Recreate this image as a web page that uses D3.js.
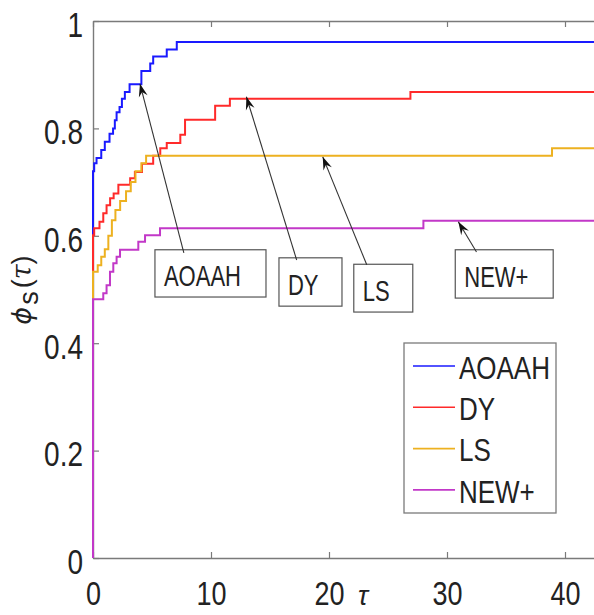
<!DOCTYPE html>
<html>
<head>
<meta charset="utf-8">
<script src="https://cdn.jsdelivr.net/npm/d3@7"></script>
<style>
  body { margin: 0; background: #fff; }
  svg { display: block; }
  text { font-family: "Liberation Sans", Arial, sans-serif; fill: #222; }
</style>
</head>
<body>
<div class="canvas"></div>
<script>
// performance profile data (step curves)
const seriesNames = ['AOAAH', 'DY', 'LS', 'NEW+'];
const seriesColors = ['#1a1aff', '#ff2a2a', '#edb120', '#c238c8'];

const tauAOAAH = [0, 0, 0.1, 0.3, 0.7, 1.0, 1.4, 1.7, 1.85, 2.0, 2.25, 2.45, 2.7, 3.1, 4.1, 4.85, 5.1, 6.25, 7.1, 50];
const phiAOAAH = [0, 0.72, 0.735, 0.745, 0.76, 0.775, 0.79, 0.80, 0.815, 0.83, 0.84, 0.855, 0.868, 0.882, 0.907, 0.921, 0.934, 0.947, 0.961, 0.961];

const tauDY = [0, 0, 0.1, 0.55, 0.87, 1.15, 1.45, 1.75, 2.15, 3.15, 3.55, 4.15, 5.1, 5.7, 6.25, 7.4, 7.8, 10.35, 11.6, 26.9, 50];
const phiDY = [0, 0.601, 0.614, 0.626, 0.642, 0.657, 0.670, 0.679, 0.695, 0.707, 0.719, 0.734, 0.749, 0.763, 0.773, 0.788, 0.816, 0.842, 0.855, 0.868, 0.868];

const tauLS = [0, 0, 0.4, 0.7, 1.0, 1.3, 1.6, 1.9, 2.3, 2.8, 3.2, 3.6, 4.1, 4.5, 38.9, 50];
const phiLS = [0, 0.533, 0.545, 0.561, 0.575, 0.60, 0.629, 0.648, 0.665, 0.683, 0.70, 0.72, 0.735, 0.749, 0.763, 0.763];

const tauNEW = [0, 0, 0.87, 1.15, 1.44, 1.72, 2.0, 2.29, 3.84, 4.41, 5.68, 28.0, 50];
const phiNEW = [0, 0.482, 0.493, 0.508, 0.533, 0.549, 0.561, 0.574, 0.589, 0.601, 0.614, 0.628, 0.628];

const xTicks = [0, 10, 20, 30, 40];
const yTicks = [0, 0.2, 0.4, 0.6, 0.8, 1];

// text annotations: arrow head on the curve, arrow tail and box in data units
const notes = [
  {label: 'AOAAH', head: [3.98, 0.883], tail: [7.7, 0.568], box: [5.25, 14.66, 0.574, 0.486]},
  {label: 'DY', head: [13.0, 0.859], tail: [17.26, 0.555], box: [15.76, 21.1, 0.559, 0.469]},
  {label: 'LS', head: [19.47, 0.747], tail: [23.2, 0.546], box: [22.1, 27.1, 0.547, 0.458]},
  {label: 'NEW+', head: [30.96, 0.626], tail: [32.5, 0.570], box: [30.7, 39.0, 0.574, 0.484]}
];

const series = [
  {name: seriesNames[0], tau: tauAOAAH, phi: phiAOAAH},
  {name: seriesNames[1], tau: tauDY, phi: phiDY},
  {name: seriesNames[2], tau: tauLS, phi: phiLS},
  {name: seriesNames[3], tau: tauNEW, phi: phiNEW}
].map((s, i) => ({...s, color: seriesColors[i], pts: s.tau.map((t, j) => [t, s.phi[j]])}));

// svg
const width = 594, height = 615;
const svg = d3.select('.canvas')
  .append('svg')
    .attr('width', width)
    .attr('height', height);

// plot box (right side is cropped off in the original)
const plotLeft = 93, plotTop = 21, plotBottom = 558;
const pxPerUnit = 11.8;

const x = d3.scaleLinear().domain([0, 50]).range([plotLeft, plotLeft + 50 * pxPerUnit]);
const y = d3.scaleLinear().domain([0, 1]).range([plotBottom, plotTop]);

const axisColor = '#7a7a7a';
const sy = 1.22; // the source picture is stretched vertically

// axes
const xAxis = d3.axisBottom(x).tickValues(xTicks).tickSizeInner(-6).tickSizeOuter(0).tickFormat(d3.format('d'));
const xTop = d3.axisTop(x).tickValues(xTicks).tickSizeInner(-6).tickSizeOuter(0).tickFormat('');
const yAxis = d3.axisLeft(y).tickValues(yTicks).tickSizeInner(-6).tickSizeOuter(0).tickFormat(d => d === 0 || d === 1 ? d : d3.format('.1f')(d));

const gx = svg.append('g').attr('transform', `translate(0, ${plotBottom})`).call(xAxis);
const gxt = svg.append('g').attr('transform', `translate(0, ${plotTop})`).call(xTop);
const gy = svg.append('g').attr('transform', `translate(${plotLeft}, 0)`).call(yAxis);

[gx, gxt, gy].forEach(g => {
  g.select('.domain').attr('stroke', axisColor).attr('stroke-width', 1.4);
  g.selectAll('.tick line').attr('stroke', axisColor).attr('stroke-width', 1.2);
});

gx.selectAll('.tick text')
  .attr('y', 38.5)
  .attr('dy', 0)
  .attr('font-size', 27)
  .attr('fill', '#222')
  .attr('transform', `scale(1, ${sy})`);

gy.selectAll('.tick text')
  .attr('x', -10)
  .attr('dy', '0.45em')
  .attr('font-size', 28)
  .attr('fill', '#222')
  .attr('transform', `scale(1, ${sy})`);

// curves
const line = d3.line()
  .x(d => x(d[0]))
  .y(d => y(d[1]))
  .curve(d3.curveStepAfter);

svg.append('g')
  .selectAll('path')
  .data(series)
  .enter()
  .append('path')
    .attr('d', d => line(d.pts))
    .attr('fill', 'none')
    .attr('stroke', d => d.color)
    .attr('stroke-width', 2);

// axis labels
svg.append('text')
  .attr('x', 358)
  .attr('y', 605)
  .attr('font-size', 27)
  .attr('font-style', 'italic')
  .attr('font-family', '"DejaVu Serif", serif')
  .text('τ');

const ylab = svg.append('text')
  .attr('transform', 'translate(31, 290) rotate(-90)')
  .attr('text-anchor', 'middle')
  .attr('font-size', 27);
ylab.append('tspan').attr('font-style', 'italic').attr('font-family', '"DejaVu Sans", sans-serif').text('ϕ');
ylab.append('tspan').attr('dy', 7).attr('dx', 2).text('s');
ylab.append('tspan').attr('dy', -7).attr('dx', 3).text('(');
ylab.append('tspan').attr('font-style', 'italic').attr('font-family', '"DejaVu Serif", serif').text('τ');
ylab.append('tspan').text(')');

// annotations
const arrowHead = (hx, hy, tx, ty) => {
  const dx = hx - tx, dy = hy - ty;
  const len = Math.hypot(dx, dy);
  const ux = dx / len, uy = dy / len;
  const nx = -uy, ny = ux;
  const L = 13, W = 9;
  const bx = hx - ux * L, by = hy - uy * L;
  const mx = hx - ux * L * 0.65, my = hy - uy * L * 0.65;
  return `M${hx},${hy}L${bx + nx * W / 2},${by + ny * W / 2}L${mx},${my}L${bx - nx * W / 2},${by - ny * W / 2}Z`;
};

const ann = svg.append('g')
  .selectAll('g')
  .data(notes)
  .enter()
  .append('g');

ann.append('rect')
  .attr('x', d => x(d.box[0]))
  .attr('y', d => y(d.box[2]))
  .attr('width', d => x(d.box[1]) - x(d.box[0]))
  .attr('height', d => y(d.box[3]) - y(d.box[2]))
  .attr('fill', '#fff')
  .attr('stroke', '#555')
  .attr('stroke-width', 1.2);

ann.append('line')
  .attr('x1', d => x(d.tail[0]))
  .attr('y1', d => y(d.tail[1]))
  .attr('x2', d => x(d.head[0]))
  .attr('y2', d => y(d.head[1]))
  .attr('stroke', '#333')
  .attr('stroke-width', 1.1);

ann.append('path')
  .attr('d', d => arrowHead(x(d.head[0]), y(d.head[1]), x(d.tail[0]), y(d.tail[1])))
  .attr('fill', '#111');

ann.append('text')
  .attr('transform', d => `translate(${x(d.box[0]) + 9}, ${y(d.box[3]) - 11}) scale(1, 1.36)`)
  .attr('font-size', 22)
  .text(d => d.label);

// legend
const lgX = 404, lgY = 343, lgW = 152, lgH = 170;
const legend = svg.append('g');
legend.append('rect')
  .attr('x', lgX).attr('y', lgY)
  .attr('width', lgW).attr('height', lgH)
  .attr('fill', '#fff')
  .attr('stroke', '#7a7a7a')
  .attr('stroke-width', 1.3);

const items = legend.selectAll('g.item')
  .data(series)
  .enter()
  .append('g')
    .attr('class', 'item')
    .attr('transform', (d, i) => `translate(${lgX}, ${lgY + 23 + i * 41.3})`);

items.append('line')
  .attr('x1', 9).attr('x2', 51)
  .attr('y1', 0).attr('y2', 0)
  .attr('stroke', d => d.color)
  .attr('stroke-width', 1.6);

items.append('text')
  .attr('x', 55)
  .attr('y', 0)
  .attr('dy', '0.42em')
  .attr('font-size', 26)
  .attr('transform', 'scale(1, 1.18)')
  .attr('fill', '#111')
  .text(d => d.name);
</script>
</body>
</html>
